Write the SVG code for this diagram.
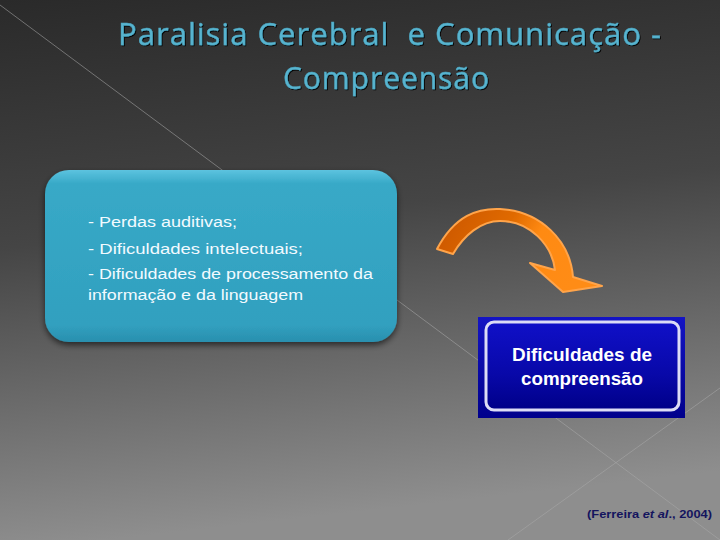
<svg xmlns="http://www.w3.org/2000/svg" width="720" height="540" viewBox="0 0 720 540">
  <defs>
    <linearGradient id="bg" x1="0" y1="0" x2="0.15" y2="1">
      <stop offset="0" stop-color="#2a2a2a"/>
      <stop offset="0.45" stop-color="#454545"/>
      <stop offset="1" stop-color="#8e8e8e"/>
    </linearGradient>
    <linearGradient id="teal" x1="0" y1="0" x2="0" y2="1">
      <stop offset="0" stop-color="#5cc3df"/>
      <stop offset="0.08" stop-color="#38a9c7"/>
      <stop offset="0.9" stop-color="#31a0bf"/>
      <stop offset="1" stop-color="#2a8fae"/>
    </linearGradient>
    <linearGradient id="navyOuter" x1="0" y1="0" x2="0" y2="1">
      <stop offset="0" stop-color="#1414c4"/>
      <stop offset="1" stop-color="#00008c"/>
    </linearGradient>
    <linearGradient id="navyInner" x1="0" y1="0" x2="0" y2="1">
      <stop offset="0" stop-color="#1010c8"/>
      <stop offset="0.6" stop-color="#0808a8"/>
      <stop offset="1" stop-color="#000088"/>
    </linearGradient>
    <linearGradient id="orange" x1="0" y1="0" x2="1" y2="0.3">
      <stop offset="0" stop-color="#c85400"/>
      <stop offset="0.45" stop-color="#e06a00"/>
      <stop offset="0.65" stop-color="#ff8a12"/>
      <stop offset="1" stop-color="#ff8c16"/>
    </linearGradient>
    <filter id="shadow" x="-10%" y="-10%" width="120%" height="130%">
      <feGaussianBlur in="SourceAlpha" stdDeviation="3"/>
      <feOffset dx="0" dy="3" result="b"/>
      <feComponentTransfer><feFuncA type="linear" slope="0.6"/></feComponentTransfer>
      <feMerge><feMergeNode/><feMergeNode in="SourceGraphic"/></feMerge>
    </filter>
    <filter id="tshadow" x="-5%" y="-20%" width="110%" height="140%">
      <feOffset in="SourceAlpha" dx="1" dy="1" result="o"/>
      <feComponentTransfer in="o" result="d"><feFuncA type="linear" slope="0.9"/></feComponentTransfer>
      <feMerge><feMergeNode in="d"/><feMergeNode in="SourceGraphic"/></feMerge>
    </filter>
  </defs>
  <style>
    .title { font-family: "Open Sans", "Liberation Sans", sans-serif; font-size: 31px; fill: #58b4cf; stroke: #4aa6c2; stroke-width: 0.4px; letter-spacing: 1px; white-space: pre; }
    .body { font-family: "Liberation Sans", Arial, sans-serif; font-size: 15.5px; fill: #f2faff; }
    .box2 { font-family: "Liberation Sans", Arial, sans-serif; font-size: 18px; font-weight: bold; fill: #ffffff; text-anchor: middle; }
    .cite { font-family: "Liberation Sans", Arial, sans-serif; font-size: 11.5px; font-weight: bold; fill: #14145e; }
    .deco { stroke: #a8a8a8; stroke-width: 0.8; fill: none; opacity: 0.7; }
  </style>

  <rect x="0" y="0" width="720" height="540" fill="url(#bg)"/>
  <g id="background-lines">
    <line class="deco" x1="0" y1="5" x2="720" y2="540"/>
    <line class="deco" x1="508" y1="540" x2="720" y2="388"/>
  </g>

  <g id="title" filter="url(#tshadow)">
    <text class="title" x="118" y="45" textLength="544" lengthAdjust="spacingAndGlyphs" xml:space="preserve">Paralisia Cerebral  e Comunicação -</text>
    <text class="title" x="283" y="89" textLength="207" lengthAdjust="spacingAndGlyphs">Compreensão</text>
  </g>

  <g id="causes">
    <rect x="45" y="170" width="352" height="172" rx="24" ry="24" fill="url(#teal)" filter="url(#shadow)"/>
    <text class="body" x="88" y="227" textLength="149" lengthAdjust="spacingAndGlyphs">- Perdas auditivas;</text>
    <text class="body" x="88" y="254" textLength="215" lengthAdjust="spacingAndGlyphs">- Dificuldades intelectuais;</text>
    <text class="body" x="88" y="279" textLength="285" lengthAdjust="spacingAndGlyphs">- Dificuldades de processamento da</text>
    <text class="body" x="88" y="300" textLength="215" lengthAdjust="spacingAndGlyphs">informação e da linguagem</text>
  </g>

  <g id="connectors">
    <path d="M 437,249 C 455,215 478,208 500,209 C 540,211 570,240 573,277 L 602,286 L 563,292 L 530,263 L 555,270 C 552,245 530,221 500,221 C 481,221 464,235 453,254 Z" fill="url(#orange)" stroke="#ffa44a" stroke-width="2" stroke-linejoin="round"/>
  </g>

  <g id="result">
    <rect x="478" y="317" width="207" height="101" fill="url(#navyOuter)"/>
    <rect x="486" y="322" width="193" height="88" rx="8" ry="8" fill="url(#navyInner)" stroke="#dcdcf6" stroke-width="3"/>
    <text class="box2" x="582" y="361" textLength="140" lengthAdjust="spacingAndGlyphs">Dificuldades de</text>
    <text class="box2" x="582" y="385" textLength="122" lengthAdjust="spacingAndGlyphs">compreensão</text>
  </g>

  <g id="citation">
    <text class="cite" x="587" y="518" textLength="125" lengthAdjust="spacingAndGlyphs">(Ferreira <tspan font-style="italic">et al</tspan>., 2004)</text>
  </g>
</svg>
